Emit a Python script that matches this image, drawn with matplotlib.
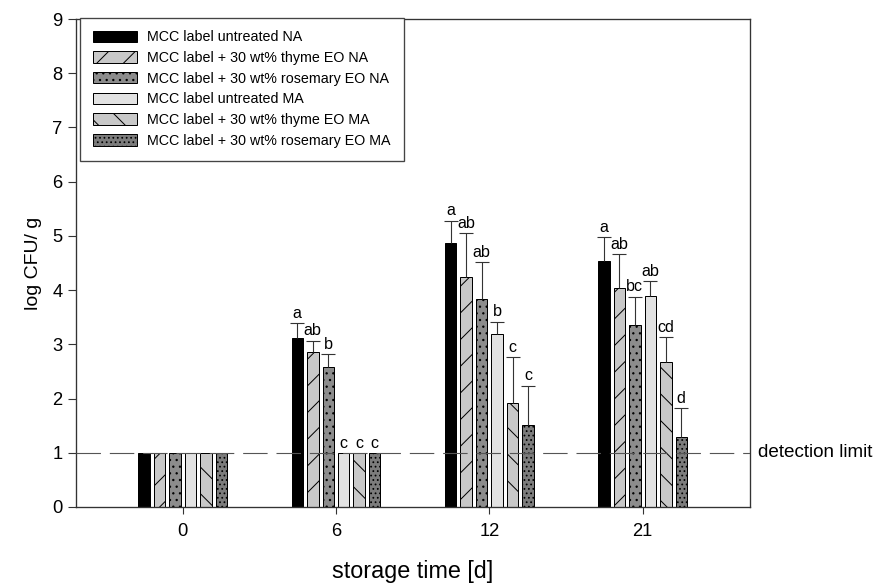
import numpy as np
import matplotlib
matplotlib.use('Agg')
import matplotlib.pyplot as plt

plt.rcParams['font.family'] = ['Liberation Sans', 'DejaVu Sans']
plt.rcParams['hatch.linewidth'] = 0.9

# storage days (x categories)
days = ['0', '6', '12', '21']

# log CFU/g per day
untreated_na = [1.0, 3.12, 4.87, 4.54]
thyme_na = [1.0, 2.85, 4.24, 4.03]
rosemary_na = [1.0, 2.59, 3.83, 3.36]
untreated_ma = [1.0, 1.0, 3.19, 3.89]
thyme_ma = [1.0, 1.0, 1.91, 2.68]
rosemary_ma = [1.0, 1.0, 1.52, 1.29]

# upper error (SD)
err_untreated_na = [0, 0.27, 0.41, 0.44]
err_thyme_na = [0, 0.22, 0.81, 0.64]
err_rosemary_na = [0, 0.23, 0.69, 0.52]
err_untreated_ma = [0, 0, 0.23, 0.28]
err_thyme_ma = [0, 0, 0.86, 0.46]
err_rosemary_ma = [0, 0, 0.72, 0.54]

# significance letters
let_untreated_na = ['', 'a', 'a', 'a']
let_thyme_na = ['', 'ab', 'ab', 'ab']
let_rosemary_na = ['', 'b', 'ab', 'bc']
let_untreated_ma = ['', 'c', 'b', 'ab']
let_thyme_ma = ['', 'c', 'c', 'cd']
let_rosemary_ma = ['', 'c', 'c', 'd']

labels = ['MCC label untreated NA',
          'MCC label + 30 wt% thyme EO NA',
          'MCC label + 30 wt% rosemary EO NA',
          'MCC label untreated MA',
          'MCC label + 30 wt% thyme EO MA',
          'MCC label + 30 wt% rosemary EO MA']

detection_limit = 1.0

series = [untreated_na, thyme_na, rosemary_na, untreated_ma, thyme_ma, rosemary_ma]
errors = [err_untreated_na, err_thyme_na, err_rosemary_na,
          err_untreated_ma, err_thyme_ma, err_rosemary_ma]
letters = [let_untreated_na, let_thyme_na, let_rosemary_na,
           let_untreated_ma, let_thyme_ma, let_rosemary_ma]

# look of each bar series
fills = ['black', '#c8c8c8', '#8c8c8c', '#e2e2e2', '#c8c8c8', '#7c7c7c']
hatches = [None, '/', '..', None, '\\', '...']

dpi = 80
fig = plt.figure(figsize=(873 / dpi, 583 / dpi), dpi=dpi)
ax = fig.add_axes([0.0867, 0.1304, 0.859 - 0.0867, 0.9674 - 0.1304])

x = np.arange(len(days))
step = 0.101
width = 0.075

for i in range(len(series)):
	pos = x + (i - 2.5) * step
	vals = np.array(series[i])
	err = np.array(errors[i])
	ax.bar(pos, vals, width, color=fills[i], edgecolor='black', linewidth=0.9,
		hatch=hatches[i], label=labels[i], zorder=2)

	has_err = err > 0
	if has_err.any():
		eb = ax.errorbar(pos[has_err], vals[has_err],
			yerr=[np.zeros(has_err.sum()), err[has_err]],
			fmt='none', ecolor='#333333', elinewidth=1.0, capsize=6.5,
			capthick=1.0, zorder=3)
		eb[1][0].set_visible(False)  # only upper cap

	for j in range(len(days)):
		if letters[i][j]:
			ax.annotate(letters[i][j], (pos[j], vals[j] + err[j]),
				xytext=(0, 2), textcoords='offset points',
				ha='center', va='bottom', fontsize=14.5, color='black')

# detection limit
ax.axhline(detection_limit, color='#555555', linewidth=1.0,
	linestyle=(0, (22, 8)), zorder=4)
ax.annotate('detection limit', (1.0, detection_limit),
	xycoords=('axes fraction', 'data'), xytext=(7, 0),
	textcoords='offset points', ha='left', va='center', fontsize=17,
	annotation_clip=False)

ax.set_xlim(-0.698, 3.70)
ax.set_ylim(0, 9)
ax.set_xticks(x)
ax.set_xticklabels(days)
ax.set_yticks(np.arange(0, 10, 1))

ax.tick_params(axis='x', direction='out', length=6, width=1.0, pad=8,
	labelsize=16.5, color='#333333')
ax.tick_params(axis='y', direction='out', length=7, width=1.0, pad=5,
	labelsize=16.5, color='#333333')

for s in ax.spines.values():
	s.set_color('#333333')
	s.set_linewidth(1.2)

ax.set_xlabel('storage time [d]', fontsize=21, labelpad=18)
ax.set_ylabel('log CFU/ g', fontsize=17.5, labelpad=9)

leg = ax.legend(loc='upper left', bbox_to_anchor=(0.007, 1.003),
	borderaxespad=0, fontsize=12.8, handlelength=3.05, handleheight=0.85,
	handletextpad=0.76, labelspacing=0.47, borderpad=0.9, fancybox=False,
	framealpha=1.0, edgecolor='#444444')
leg.get_frame().set_linewidth(1.2)

fig.savefig('out.png', dpi=dpi)
